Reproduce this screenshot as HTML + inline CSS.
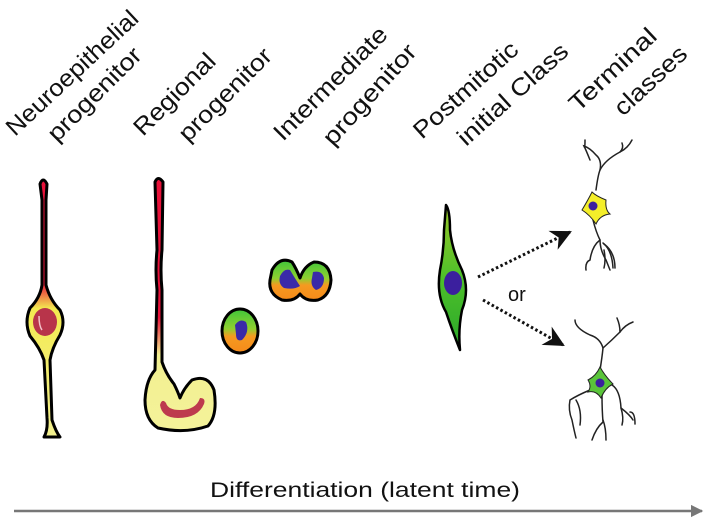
<!DOCTYPE html>
<html><head><meta charset="utf-8"><style>
html,body{margin:0;padding:0;background:#fff;width:711px;height:520px;overflow:hidden}
svg{display:block}
text{font-family:"Liberation Sans",Arial,sans-serif;fill:#111}
</style></head><body>
<svg width="711" height="520" viewBox="0 0 711 520" xmlns="http://www.w3.org/2000/svg">
<defs>
<linearGradient id="ry" x1="0" y1="0" x2="0" y2="1">
<stop offset="0" stop-color="#e8123a"/><stop offset="0.4" stop-color="#e8123a"/><stop offset="0.5" stop-color="#f3ea50"/><stop offset="1" stop-color="#f2f090"/></linearGradient>
<linearGradient id="ry2" x1="0" y1="0" x2="0" y2="1">
<stop offset="0" stop-color="#e8123a"/><stop offset="0.55" stop-color="#e8123a"/><stop offset="0.7" stop-color="#f2f090"/><stop offset="1" stop-color="#f4f29a"/></linearGradient>
<linearGradient id="go" x1="0" y1="0" x2="0" y2="1">
<stop offset="0" stop-color="#3fc43a"/><stop offset="0.45" stop-color="#8fd030"/><stop offset="0.62" stop-color="#f59a20"/><stop offset="1" stop-color="#f58a1a"/></linearGradient>
<linearGradient id="gg" x1="0" y1="0" x2="0" y2="1">
<stop offset="0" stop-color="#9ac82a"/><stop offset="0.5" stop-color="#4ec02a"/><stop offset="1" stop-color="#2aa82a"/></linearGradient>
<marker id="ah" viewBox="0 0 10 10" refX="9" refY="5" markerWidth="7" markerHeight="7" orient="auto"><path d="M0,0 L10,5 L0,10 L3,5z" fill="#111"/></marker>
<marker id="gh" viewBox="0 0 10 10" refX="9" refY="5" markerWidth="5" markerHeight="5" orient="auto"><path d="M0,0 L10,5 L0,10z" fill="#777"/></marker>
</defs>

<!-- labels -->
<g font-size="24">
<text transform="translate(15,137) rotate(-43)" textLength="171" lengthAdjust="spacingAndGlyphs">Neuroepithelial</text>
<text transform="translate(57,143) rotate(-45)" textLength="122" lengthAdjust="spacingAndGlyphs">progenitor</text>
<text transform="translate(143,137) rotate(-45)" textLength="105" lengthAdjust="spacingAndGlyphs">Regional</text>
<text transform="translate(188,143) rotate(-45)" textLength="121" lengthAdjust="spacingAndGlyphs">progenitor</text>
<text transform="translate(283,142) rotate(-45)" textLength="150" lengthAdjust="spacingAndGlyphs">Intermediate</text>
<text transform="translate(333,147) rotate(-48)" textLength="127" lengthAdjust="spacingAndGlyphs">progenitor</text>
<text transform="translate(422,140) rotate(-42)" textLength="132" lengthAdjust="spacingAndGlyphs">Postmitotic</text>
<text transform="translate(466,147) rotate(-42)" textLength="140" lengthAdjust="spacingAndGlyphs">initial Class</text>
<text transform="translate(578,113) rotate(-43)" textLength="110" lengthAdjust="spacingAndGlyphs">Terminal</text>
<text transform="translate(623,117) rotate(-43)" textLength="90" lengthAdjust="spacingAndGlyphs">classes</text>
</g>

<!-- neuroepithelial -->
<path d="M40,184 Q43,176 47,184 L46,200 L46,285 Q50,300 60,310 Q66,322 60,335 Q52,348 50,360 L52,420 Q56,432 60,437 L44,437 Q48,430 47,418 L44,360 Q40,348 30,336 Q24,322 30,308 Q40,298 42,285 L42,200 Z" fill="url(#ry)" stroke="#000" stroke-width="3" stroke-linejoin="round"/>
<ellipse cx="45" cy="322" rx="12" ry="14" fill="#b8344a"/>
<path d="M39,316 Q39,326 42,330" stroke="#f3c0c8" stroke-width="1.5" fill="none"/>

<!-- regional -->
<path d="M155,182 Q158,175 163,182 L162,250 Q160,270 162,290 L162,362 Q166,374 174,384 Q178,392 180,398 Q184,388 192,380 Q208,374 214,390 Q218,415 208,426 Q185,434 158,428 Q145,420 145,400 Q146,380 155,370 L157,290 Q155,270 157,250 Z" fill="url(#ry2)" stroke="#000" stroke-width="3" stroke-linejoin="round"/>
<path d="M160,405 Q162,418 178,418 Q198,418 204,404 Q206,398 200,398 Q196,410 180,410 Q168,410 166,403 Q162,398 160,405Z" fill="#bd3a4e"/>

<!-- intermediate single -->
<ellipse cx="240" cy="331" rx="18" ry="22" fill="url(#go)" stroke="#000" stroke-width="3"/>
<path d="M235,325 Q240,318 246,322 Q250,332 242,340 Q236,342 236,334Z" fill="#3a2aa8"/>
<!-- doublet -->
<path d="M272,270 Q280,256 292,262 Q296,268 300,278 Q304,266 314,262 Q330,262 331,280 Q330,296 318,300 Q306,302 300,294 Q294,302 282,300 Q268,294 270,280Z" fill="url(#go)" stroke="#000" stroke-width="3" stroke-linejoin="round"/>
<path d="M280,276 Q284,268 290,270 Q296,280 300,286 Q294,290 284,288 Q278,284 280,276Z" fill="#3a2aa8"/>
<path d="M313,272 Q322,270 324,278 Q324,288 316,290 Q310,286 312,278Z" fill="#3a2aa8"/>

<!-- postmitotic -->
<path d="M446,205 Q450,210 450,230 Q452,250 462,270 Q470,290 462,310 Q458,330 460,350 Q452,330 446,312 Q436,295 440,270 Q444,250 444,230 Z" fill="url(#gg)" stroke="#000" stroke-width="2.5" stroke-linejoin="round"/>
<ellipse cx="453" cy="283" rx="9" ry="12" fill="#3b1f9e"/>

<!-- arrows -->
<line x1="478" y1="277" x2="570" y2="232" stroke="#111" stroke-width="3" stroke-dasharray="2.5,2.5" marker-end="url(#ah)"/>
<line x1="483" y1="300" x2="563" y2="345" stroke="#111" stroke-width="3" stroke-dasharray="2.5,2.5" marker-end="url(#ah)"/>
<text x="508" y="301" font-size="20">or</text>

<!-- neuron 1 -->
<g fill="none" stroke="#222" stroke-width="1.5" stroke-linecap="round">
<path d="M596,190 Q598,175 600,170 Q605,160 620,152 Q628,148 632,140"/>
<path d="M620,152 Q624,148 622,143"/>
<path d="M600,170 Q602,160 596,155 Q590,148 584,146 Q586,150 590,160"/>
<path d="M585,140 Q585,150 584,146"/>
<path d="M593,220 Q596,232 600,240 Q600,250 606,260 L610,270"/>
<path d="M600,240 Q592,246 590,260 Q585,262 586,270"/>
<path d="M604,250 Q606,260 604,268"/>
<path d="M603,243 Q612,250 613,268"/>
<path d="M604,244 Q615,252 615,268"/>
</g>
<path d="M582,210 Q588,200 592,192 Q596,196 606,200 Q605,210 610,214 Q600,215 596,224 Q590,215 582,210Z" fill="#f4ee2a" stroke="#222" stroke-width="1"/>
<circle cx="593" cy="206" r="4.5" fill="#3b1f9e"/>

<!-- neuron 2 -->
<g fill="none" stroke="#222" stroke-width="1.5" stroke-linecap="round">
<path d="M600,370 Q602,358 603,348 Q600,338 590,335 Q575,328 575,320"/>
<path d="M603,348 Q612,340 620,332 Q625,325 633,322"/>
<path d="M620,332 Q620,325 617,318"/>
<path d="M590,390 Q578,395 570,400 Q568,410 572,420 Q574,430 576,438"/>
<path d="M576,400 Q582,410 580,425"/>
<path d="M602,395 Q602,410 603,422 Q596,428 592,440"/>
<path d="M603,420 Q606,428 606,440"/>
<path d="M612,385 Q620,390 621,408 Q630,415 633,420"/>
<path d="M621,408 Q624,418 622,425"/>
<path d="M630,412 Q635,412 635,424"/>
</g>
<path d="M588,380 Q596,376 600,367 Q605,376 613,384 Q605,388 601,398 Q596,390 588,392 Q592,386 588,380Z" fill="#5ac43a" stroke="#222" stroke-width="1"/>
<circle cx="600" cy="383" r="4.5" fill="#3b1f9e"/>

<!-- bottom -->
<text x="210" y="497" font-size="21" textLength="310" lengthAdjust="spacingAndGlyphs">Differentiation (latent time)</text>
<line x1="14" y1="511" x2="702" y2="511" stroke="#777" stroke-width="2.5" marker-end="url(#gh)"/>
</svg>
</body></html>
